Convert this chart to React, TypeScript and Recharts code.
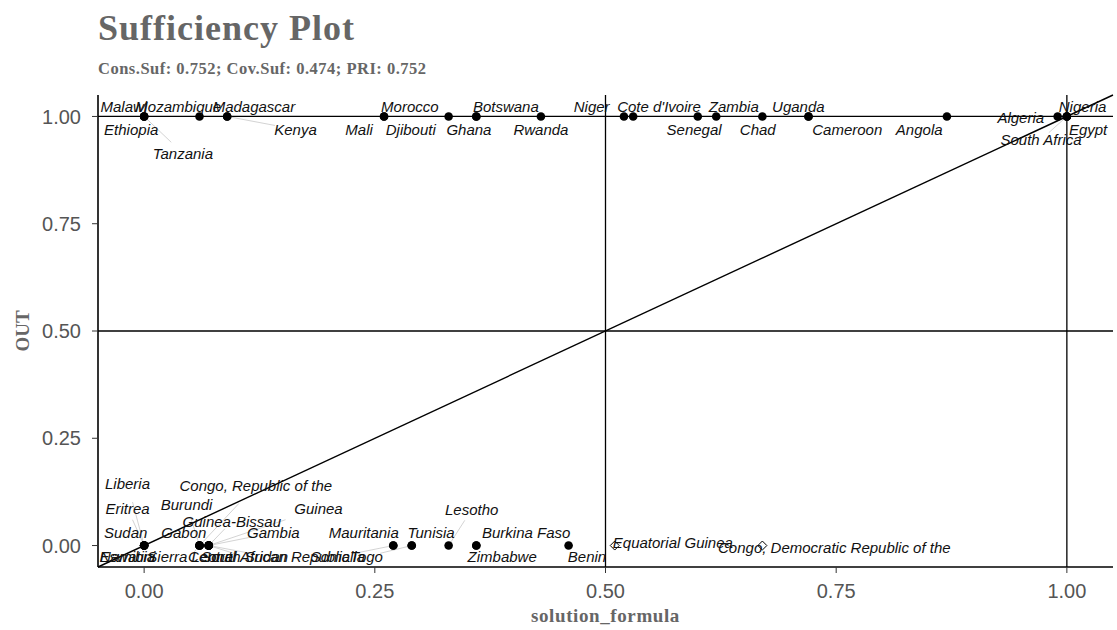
import {
  ScatterChart,
  Scatter,
  XAxis,
  YAxis,
  ReferenceLine,
} from 'recharts'

// cases: solution_formula membership (x), outcome (y)
const CASE_NAMES = [
  'Malawi', 'Ethiopia', 'Tanzania', 'Mozambique', 'Madagascar', 'Kenya', 'Morocco', 'Mali',
  'Djibouti', 'Ghana', 'Botswana', 'Rwanda', 'Niger', "Cote d'Ivoire", 'Senegal', 'Zambia',
  'Chad', 'Uganda', 'Cameroon', 'Angola', 'Algeria', 'South Africa', 'Nigeria', 'Egypt',
  'Liberia', 'Eritrea', 'Sudan', 'Namibia', 'Eswatini', 'Congo, Republic of the', 'Burundi',
  'Gabon', 'Sierra Leone', 'Guinea-Bissau', 'Guinea', 'Gambia', 'Central African Republic',
  'South Sudan', 'Mauritania', 'Somalia', 'Tunisia', 'Togo', 'Lesotho', 'Burkina Faso',
  'Zimbabwe', 'Benin', 'Equatorial Guinea', 'Congo, Democratic Republic of the',
]
const SOLUTION = [
  0, 0, 0, 0.06, 0.09, 0.09, 0.26, 0.26,
  0.33, 0.36, 0.36, 0.43, 0.52, 0.53, 0.6, 0.62,
  0.67, 0.72, 0.72, 0.87, 0.99, 1, 1, 1,
  0, 0, 0, 0, 0, 0.06, 0.06,
  0.06, 0.06, 0.07, 0.07, 0.07, 0.07,
  0.07, 0.27, 0.27, 0.29, 0.29, 0.33, 0.36,
  0.36, 0.46, 0.51, 0.67,
]
const OUT = [
  1, 1, 1, 1, 1, 1, 1, 1,
  1, 1, 1, 1, 1, 1, 1, 1,
  1, 1, 1, 1, 1, 1, 1, 1,
  0, 0, 0, 0, 0, 0, 0,
  0, 0, 0, 0, 0, 0,
  0, 0, 0, 0, 0, 0, 0,
  0, 0, 0, 0,
]
// repelled label positions (data units)
const LABEL_X = [
  -0.022, -0.014, 0.042, 0.037, 0.119, 0.164, 0.288, 0.233,
  0.289, 0.352, 0.392, 0.43, 0.485, 0.558, 0.596, 0.639,
  0.665, 0.709, 0.762, 0.84, 0.95, 0.972, 1.017, 1.023,
  -0.018, -0.018, -0.02, -0.018, -0.018, 0.121, 0.046,
  0.043, 0.05, 0.095, 0.189, 0.14, 0.135,
  0.109, 0.238, 0.21, 0.311, 0.241, 0.355, 0.414,
  0.388, 0.48, 0.573, 0.748,
]
const LABEL_Y = [
  1.023, 0.97, 0.914, 1.023, 1.023, 0.97, 1.023, 0.97,
  0.97, 0.97, 1.023, 0.97, 1.023, 1.023, 0.97, 1.023,
  0.97, 1.023, 0.97, 0.97, 0.998, 0.946, 1.023, 0.97,
  0.145, 0.086, 0.03, -0.026, -0.026, 0.14, 0.096,
  0.03, -0.026, 0.056, 0.086, 0.03, -0.026,
  -0.026, 0.03, -0.026, 0.03, -0.026, 0.084, 0.03,
  -0.026, -0.026, 0.007, -0.005,
]
const LEADER_CASES = [
  'Tanzania', 'Kenya', 'South Africa', 'Liberia', 'Eritrea', 'Congo, Republic of the', 'Burundi',
  'Guinea-Bissau', 'Guinea', 'Gambia', 'Sierra Leone', 'Central African Republic', 'South Sudan',
  'Somalia', 'Togo', 'Lesotho',
]
const X_TICKS = [0, 0.25, 0.5, 0.75, 1]
const Y_TICKS = [0, 0.25, 0.5, 0.75, 1]
const CONS_SUF = 0.752
const COV_SUF = 0.474
const PRI = 0.752

const cases = CASE_NAMES.map((name, i) => ({
  name,
  x: SOLUTION[i],
  y: OUT[i],
  lx: LABEL_X[i],
  ly: LABEL_Y[i],
}))
// deviant cases (x > 0.5, y < 0.5) drawn as open diamonds
const consistent = cases.filter(c => !(c.x > 0.5 && c.y < 0.5))
const deviant = cases.filter(c => c.x > 0.5 && c.y < 0.5)
const labels = cases.map(c => ({ x: c.lx, y: c.ly, name: c.name }))

const SERIF = '"Liberation Serif", "DejaVu Serif", serif'
const SANS = '"Liberation Sans", Arial, sans-serif'
const GREY = '#666666'
const TICK_GREY = '#555555'

function Dot(props: any) {
  const { cx, cy } = props
  return <circle cx={cx} cy={cy} r={4.3} fill="#000" />
}

function Diamond(props: any) {
  const { cx, cy } = props
  const s = 4.5
  return (
    <polygon
      points={`${cx},${cy - s} ${cx + s},${cy} ${cx},${cy + s} ${cx - s},${cy}`}
      fill="#fff"
      stroke="#000"
      strokeWidth={1}
    />
  )
}

function LabelText(props: any) {
  const { cx, cy, payload } = props
  return (
    <text
      x={cx}
      y={cy}
      textAnchor="middle"
      dominantBaseline="central"
      fontFamily={SANS}
      fontStyle="italic"
      fontSize={15}
      fill="#111"
    >
      {payload.name}
    </text>
  )
}

export default function App() {
  const leaders = cases.filter(c => LEADER_CASES.includes(c.name))
  return (
    <div style={{ position: 'absolute', left: 0, top: 0, width: 1117, height: 630, background: '#fff' }}>
      <div
        style={{
          position: 'absolute', left: 98, top: 6, fontFamily: SERIF, fontWeight: 'bold',
          fontSize: 36, color: GREY, lineHeight: '44px', whiteSpace: 'nowrap', letterSpacing: 1,
        }}
      >
        Sufficiency Plot
      </div>
      <div
        style={{
          position: 'absolute', left: 98, top: 58, fontFamily: SERIF, fontWeight: 'bold',
          fontSize: 16.5, color: GREY, lineHeight: '22px', whiteSpace: 'nowrap', letterSpacing: 0.5,
        }}
      >
        {`Cons.Suf: ${CONS_SUF.toFixed(3)}; Cov.Suf: ${COV_SUF.toFixed(3)}; PRI: ${PRI.toFixed(3)}`}
      </div>
      <div style={{ position: 'absolute', left: 0, top: 0 }}>
        <ScatterChart width={1117} height={630} margin={{ top: 95, right: 4, bottom: 8, left: 38 }}>
          <XAxis
            type="number"
            dataKey="x"
            domain={[-0.05, 1.05]}
            allowDataOverflow
            ticks={X_TICKS}
            tickFormatter={(v: number) => v.toFixed(2)}
            tick={{ fontSize: 20, fill: TICK_GREY, fontFamily: SANS }}
            tickSize={6}
            tickMargin={11}
            axisLine={{ stroke: '#000', strokeWidth: 1.6 }}
            tickLine={{ stroke: '#333' }}
            height={55}
            label={{
              value: 'solution_formula', position: 'insideBottom', offset: 0,
              style: { fontFamily: SERIF, fontWeight: 'bold', fontSize: 19, fill: GREY, letterSpacing: 0.6 },
            }}
          />
          <YAxis
            type="number"
            dataKey="y"
            domain={[-0.05, 1.05]}
            allowDataOverflow
            ticks={Y_TICKS}
            tickFormatter={(v: number) => v.toFixed(2)}
            tick={{ fontSize: 20, fill: TICK_GREY, fontFamily: SANS, dx: -7 }}
            tickSize={6}
            tickMargin={4}
            axisLine={{ stroke: '#000', strokeWidth: 1.6 }}
            tickLine={{ stroke: '#333' }}
            width={60}
            label={{
              value: 'OUT', angle: -90, position: 'insideLeft', offset: -16,
              style: { fontFamily: SERIF, fontWeight: 'bold', fontSize: 19, fill: GREY, textAnchor: 'middle' },
            }}
          />
          <ReferenceLine y={1} stroke="#000" strokeWidth={1.3} />
          <ReferenceLine y={0.5} stroke="#000" strokeWidth={1.3} />
          <ReferenceLine x={0.5} stroke="#000" strokeWidth={1.3} />
          <ReferenceLine x={1} stroke="#000" strokeWidth={1.3} />
          <ReferenceLine
            segment={[{ x: -0.05, y: -0.05 }, { x: 1.05, y: 1.05 }]}
            stroke="#000"
            strokeWidth={1.4}
            ifOverflow="visible"
          />
          {leaders.map(c => (
            <ReferenceLine
              key={'ld-' + c.name}
              segment={[
                { x: c.x, y: c.y },
                { x: c.lx + (c.x - c.lx) * 0.3, y: c.ly + (c.y - c.ly) * 0.3 },
              ]}
              stroke="#c8c8c8"
              strokeWidth={0.8}
              ifOverflow="visible"
            />
          ))}
          <Scatter data={consistent} shape={<Dot />} isAnimationActive={false} />
          <Scatter data={deviant} shape={<Diamond />} isAnimationActive={false} />
          <Scatter data={labels} shape={<LabelText />} isAnimationActive={false} />
        </ScatterChart>
      </div>
    </div>
  )
}
